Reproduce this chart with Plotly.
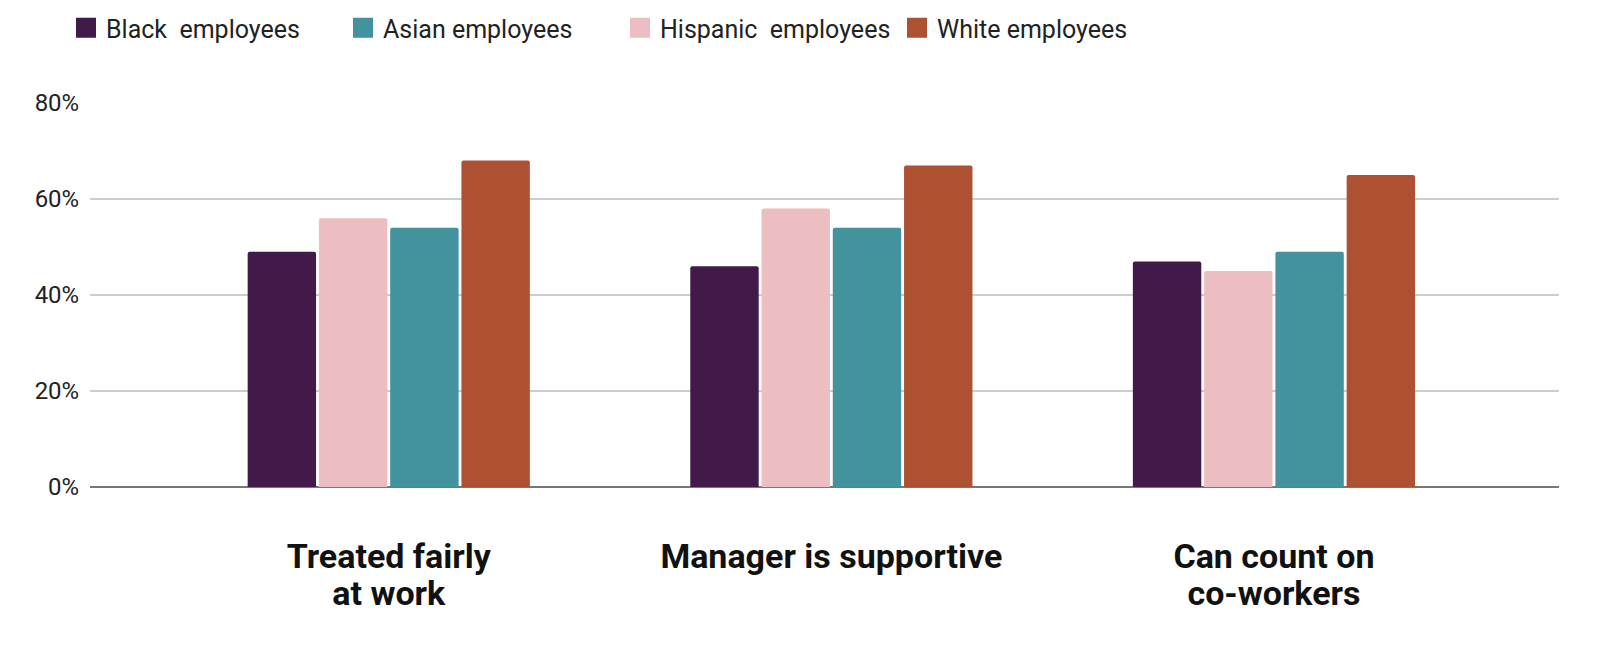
import plotly.graph_objects as go

categories = ["Treated fairly at work", "Manager is supportive", "Can count on co-workers"]
label_line1 = ["Treated fairly", "Manager is supportive", "Can count on"]
label_line2 = ["at work", "", "co-workers"]

black = [49, 46, 47]
hispanic = [56, 58, 45]
asian = [54, 54, 49]
white = [68, 67, 65]

series_names = ["Black  employees", "Hispanic  employees", "Asian employees", "White employees"]
series_values = [black, hispanic, asian, white]
colors = ["#421A4A", "#ECBEC1", "#42939E", "#AE5133"]
legend_rank = [1, 3, 2, 4]

y_ticks = [0, 20, 40, 60, 80]
y_tick_labels = ["0%", "20%", "40%", "60%", "80%"]

fig = go.Figure()
for name, vals, col in zip(series_names, series_values, colors):
    fig.add_trace(go.Bar(
        x=categories, y=vals, name=name, marker=dict(color=col, line_width=0, cornerradius=2),
        showlegend=False, hoverinfo="y+name"))

# invisible trace carrying the second line of the category labels
fig.add_trace(go.Scatter(x=categories, y=[None] * len(categories), xaxis="x2",
                         mode="markers", showlegend=False, hoverinfo="skip"))

# legend-only entries (square swatches)
for name, col, rank in zip(series_names, colors, legend_rank):
    fig.add_trace(go.Scatter(
        x=[None], y=[None], mode="markers", name=name, legendrank=rank,
        marker=dict(symbol="square", size=16, color=col, line=dict(color=col, width=4))))

cat_font = dict(size=34, family="Roboto", weight="bold", color="#111111")

fig.update_layout(
    width=1600, height=651,
    margin=dict(l=90, r=41, t=103, b=164),
    paper_bgcolor="white", plot_bgcolor="white",
    barmode="group", bargap=0.356, bargroupgap=0.04,
    font=dict(family="Roboto", color="#222222"),
    legend=dict(orientation="h", xref="container", yref="container",
                x=66 / 1600, y=1 - 28 / 651, xanchor="left", yanchor="middle",
                entrywidth=232, font=dict(size=25, color="#222222", family="Roboto"),
                itemclick=False),
    xaxis=dict(type="category", categoryarray=categories, range=[-0.675, 2.644],
               tickvals=categories, ticktext=label_line1,
               showgrid=False, showline=False,
               ticks="outside", ticklen=39, tickcolor="rgba(0,0,0,0)", tickfont=cat_font),
    xaxis2=dict(type="category", matches="x", overlaying="x", anchor="y", side="bottom",
                tickvals=categories, ticktext=label_line2,
                showgrid=False, showline=False, zeroline=False,
                ticks="outside", ticklen=76, tickcolor="rgba(0,0,0,0)", tickfont=cat_font),
    yaxis=dict(range=[0, 80], tickvals=y_ticks, ticktext=y_tick_labels,
               showgrid=True, gridcolor="#CCCCCC", gridwidth=1.5,
               zeroline=True, zerolinecolor="#777777", zerolinewidth=2,
               ticks="outside", ticklen=5, tickcolor="rgba(0,0,0,0)",
               tickfont=dict(size=24, family="Roboto", color="#222222")),
)

fig.write_html("out.html")
